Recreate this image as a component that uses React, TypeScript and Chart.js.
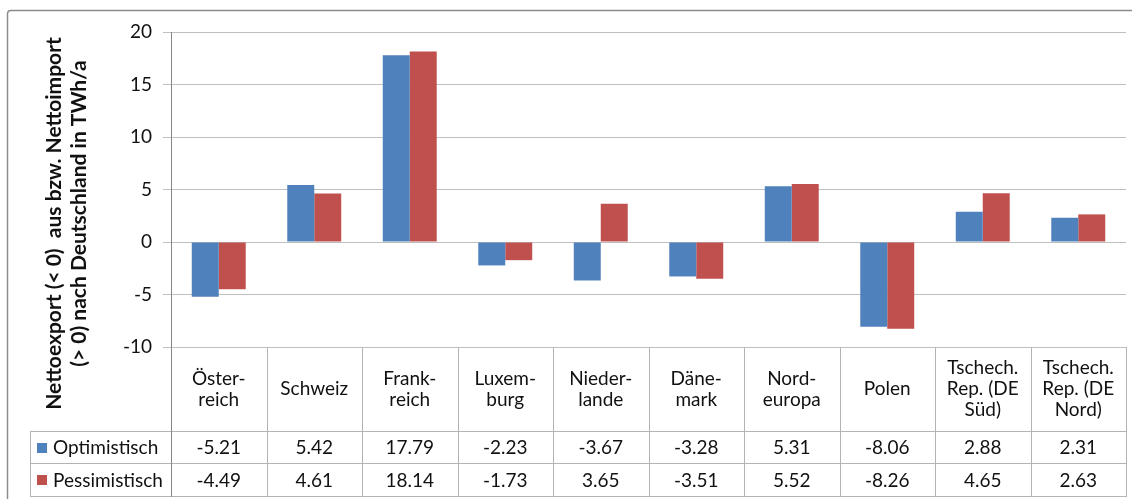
import React, { useEffect, useRef } from 'react';
import { Chart, registerables } from 'chart.js';
Chart.register(...registerables);

const categories: string[][] = [
  ['Öster-', 'reich'],
  ['Schweiz'],
  ['Frank-', 'reich'],
  ['Luxem-', 'burg'],
  ['Nieder-', 'lande'],
  ['Däne-', 'mark'],
  ['Nord-', 'europa'],
  ['Polen'],
  ['Tschech.', 'Rep. (DE', 'Süd)'],
  ['Tschech.', 'Rep. (DE', 'Nord)'],
];
const seriesNames = ['Optimistisch', 'Pessimistisch'];
const optimistisch = [-5.21, 5.42, 17.79, -2.23, -3.67, -3.28, 5.31, -8.06, 2.88, 2.31];
const pessimistisch = [-4.49, 4.61, 18.14, -1.73, 3.65, -3.51, 5.52, -8.26, 4.65, 2.63];
const yMin = -10;
const yMax = 20;
const yStep = 5;
const axisTitle = ['Nettoexport (< 0)  aus bzw. Nettoimport', '(> 0) nach Deutschland in TWh/a'];

const colors = ['#4F81BD', '#C0504D'];
const FONT = 'Lato, "Open Sans", sans-serif';
const FS = 19;

const tablePlugin = {
  id: 'dataTable',
  afterDraw(chart: any) {
    const ctx = chart.ctx;
    const area = chart.chartArea;
    const n = categories.length;
    const colW = (area.right - area.left) / n;
    const top = area.bottom;
    const headBot = top + 84;
    const r1 = headBot + 32;
    const r2 = r1 + 33;
    const legL = 30;
    ctx.save();
    ctx.strokeStyle = '#B3B3B3';
    ctx.lineWidth = 1;
    const line = (x1: number, y1: number, x2: number, y2: number) => {
      ctx.beginPath();
      ctx.moveTo(x1, y1);
      ctx.lineTo(x2, y2);
      ctx.stroke();
    };
    const R = Math.round;
    [headBot, r1, r2].forEach((y) => line(legL, R(y) + 0.5, R(area.right), R(y) + 0.5));
    for (let i = 1; i <= n; i++) {
      const x = R(area.left + i * colW) + 0.5;
      line(x, R(top), x, R(r2) + 1);
    }
    line(legL + 0.5, R(headBot), legL + 0.5, R(r2) + 1);
    ctx.strokeStyle = '#868686';
    line(R(area.left) + 0.5, R(area.top), R(area.left) + 0.5, R(r2) + 1);

    ctx.fillStyle = '#111';
    ctx.font = `${FS}px ${FONT}`;
    ctx.textAlign = 'center';
    ctx.textBaseline = 'middle';
    const lh = 21;
    const hc = (top + headBot) / 2;
    categories.forEach((lines, i) => {
      const cx = area.left + (i + 0.5) * colW;
      const y0 = hc - ((lines.length - 1) * lh) / 2;
      lines.forEach((t, j) => ctx.fillText(t, cx, y0 + j * lh));
    });
    const rows = [optimistisch, pessimistisch];
    const rowC = [(headBot + r1) / 2, (r1 + r2) / 2];
    rows.forEach((vals, k) => {
      vals.forEach((v, i) => {
        const cx = area.left + (i + 0.5) * colW;
        ctx.fillText(v.toFixed(2), cx, rowC[k] + 1);
      });
      ctx.fillStyle = colors[k];
      ctx.fillRect(37, R(rowC[k] - 4.5), 10, 10);
      ctx.fillStyle = '#111';
      ctx.textAlign = 'left';
      ctx.fillText(seriesNames[k], 53, rowC[k] + 1);
      ctx.textAlign = 'center';
    });

    ctx.font = `bold 21px ${FONT}`;
    ctx.save();
    ctx.translate(54, 223.5);
    ctx.rotate(-Math.PI / 2);
    ctx.fillText(axisTitle[0], 0, 0);
    ctx.restore();
    ctx.save();
    ctx.translate(79, 213.5);
    ctx.rotate(-Math.PI / 2);
    ctx.fillText(axisTitle[1], 0, 0);
    ctx.restore();
    ctx.restore();

    ctx.save();
    ctx.strokeStyle = '#8C8C8C';
    ctx.lineWidth = 1.5;
    ctx.beginPath();
    ctx.moveTo(7.5, 520);
    ctx.lineTo(7.5, 14);
    ctx.quadraticCurveTo(7.5, 10.5, 11, 10.5);
    ctx.lineTo(1140, 10.5);
    ctx.stroke();
    ctx.restore();
  },
};

export default function App() {
  const ref = useRef<HTMLCanvasElement>(null);
  useEffect(() => {
    if (!ref.current) return;
    const chart = new Chart(ref.current, {
      type: 'bar',
      data: {
        labels: categories.map((c) => c.join(' ')),
        datasets: [
          { label: seriesNames[0], data: optimistisch, backgroundColor: colors[0], borderWidth: 0 },
          { label: seriesNames[1], data: pessimistisch, backgroundColor: colors[1], borderWidth: 0 },
        ],
      },
      options: {
        responsive: false,
        animation: false,
        devicePixelRatio: 1,
        layout: { padding: { left: 0, right: 6, top: 32, bottom: 152 } },
        datasets: { bar: { categoryPercentage: 0.565, barPercentage: 1.0 } },
        plugins: { legend: { display: false }, tooltip: { enabled: false }, title: { display: false } },
        scales: {
          x: { display: false },
          y: {
            min: yMin,
            max: yMax,
            ticks: { stepSize: yStep, padding: 11, color: '#111', font: { family: FONT, size: FS } },
            grid: { color: '#BFBFBF', tickLength: 8, drawTicks: true },
            border: { color: '#868686' },
            afterFit: (s: any) => {
              s.width = 171;
            },
          },
        },
      },
      plugins: [tablePlugin],
    });
    return () => chart.destroy();
  }, []);
  return (
    <div style={{ position: 'fixed', left: 0, top: 0, width: 1132, height: 499, background: '#fff' }}>
      <canvas ref={ref} width={1132} height={499} />
    </div>
  );
}
